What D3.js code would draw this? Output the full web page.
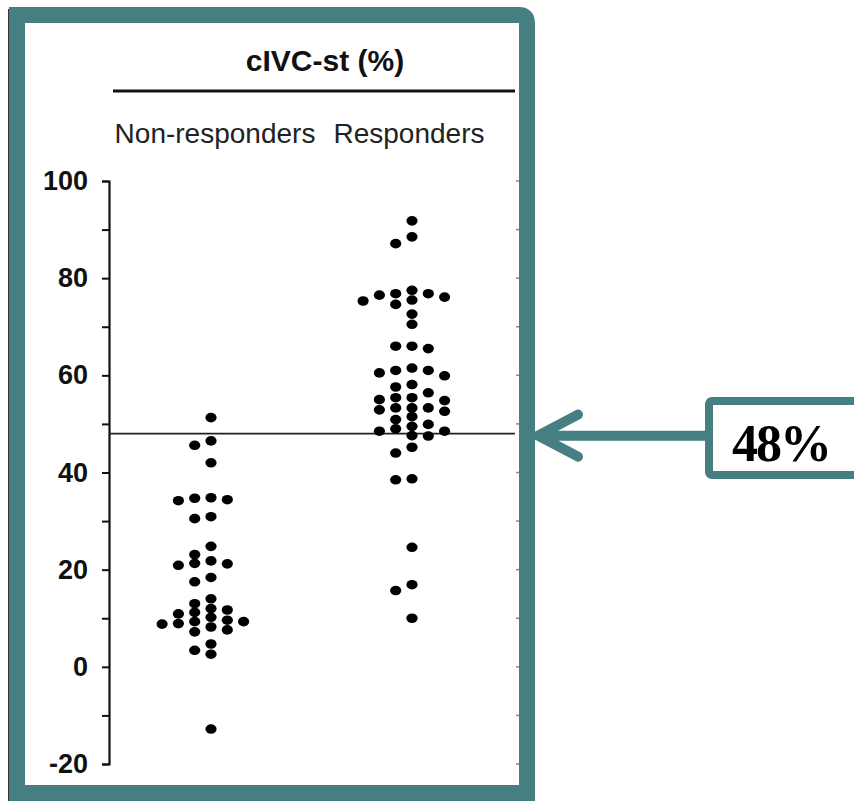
<!DOCTYPE html>
<html>
<head>
<meta charset="utf-8">
<script src="https://cdn.jsdelivr.net/npm/d3@7"></script>
<style>
  html, body { margin: 0; padding: 0; background: #fff; }
</style>
</head>
<body>
<script>
// Values (cIVC-st, %)
const groups = ["Non-responders", "Responders"];

const nonResponders = [
  51.3, 46.5, 45.6, 42.0, 34.8, 34.7, 34.4, 34.2, 30.9, 30.5,
  24.8, 23.1, 21.8, 21.3, 21.2, 20.9, 18.4, 17.5, 14.0, 13.0,
  12.0, 11.7, 11.2, 10.9, 10.2, 9.6, 9.3, 9.3, 8.9, 8.8,
  8.2, 7.6, 7.2, 4.7, 3.4, 2.6, -12.8
];

const responders = [
  91.8, 88.5, 87.1, 77.5, 76.8, 76.8, 76.5, 76.1, 75.5, 75.3,
  74.6, 72.6, 70.5, 66.0, 66.0, 65.5, 61.5, 61.0, 61.0, 60.5,
  59.9, 58.1, 57.6, 56.4, 55.4, 55.4, 55.0, 54.8, 53.3, 53.3,
  53.3, 52.9, 52.6, 51.5, 50.9, 49.9, 49.5, 49.0, 48.5, 48.5,
  47.6, 47.5, 45.2, 44.0, 38.7, 38.5, 24.6, 16.9, 15.7, 10.0
];

const cutoff = 48;
const cutoffLabel = "48%";
const yTicks = [-20, -10, 0, 10, 20, 30, 40, 50, 60, 70, 80, 90, 100];
const title = "cIVC-st (%)";

const width = 854, height = 801;
const teal = "#457f82";

const svg = d3.select("body").append("svg")
  .attr("width", width)
  .attr("height", height)
  .attr("font-family", "Liberation Sans, Arial, sans-serif");

// Frame
svg.append("line")
  .attr("x1", 9).attr("x2", 9).attr("y1", 9).attr("y2", height)
  .attr("stroke", "#333").attr("stroke-width", 2);
svg.append("path")
  .attr("d", `M17,${height + 10} V15 H519 Q527,15 527,23 V${height + 10}`)
  .attr("fill", "none")
  .attr("stroke", teal)
  .attr("stroke-width", 16);
svg.append("rect")
  .attr("x", 25).attr("y", 23).attr("width", 494).attr("height", 762)
  .attr("fill", "#fff");
svg.append("rect")
  .attr("x", 9).attr("y", 785).attr("width", 526).attr("height", 16)
  .attr("fill", teal);

// Scales
const y = d3.scaleLinear().domain([-20, 100]).range([764, 181]);
const x = d3.scalePoint().domain(groups).range([211, 412]);
const step = 16.3;

// Title + rule + group labels
svg.append("text")
  .attr("x", 325).attr("y", 71)
  .attr("text-anchor", "middle")
  .attr("font-weight", "bold")
  .attr("font-size", 30)
  .attr("fill", "#111")
  .text(title);
svg.append("line")
  .attr("x1", 113).attr("x2", 515).attr("y1", 91).attr("y2", 91)
  .attr("stroke", "#111").attr("stroke-width", 3);
svg.selectAll("text.group")
  .data(groups)
  .join("text")
  .attr("class", "group")
  .attr("x", (d, i) => i === 0 ? 215 : 409)
  .attr("y", 143)
  .attr("text-anchor", "middle")
  .attr("font-size", 28)
  .attr("fill", "#222")
  .text(d => d);

// Y axis
const yAxis = d3.axisLeft(y)
  .tickValues(yTicks)
  .tickSize(7)
  .tickPadding(14)
  .tickFormat(d => d % 20 === 0 ? d : "");
const ga = svg.append("g")
  .attr("transform", "translate(109,0)")
  .call(yAxis);
ga.select(".domain").attr("stroke", "#111").attr("stroke-width", 2.2);
ga.selectAll(".tick line").attr("stroke", "#111").attr("stroke-width", 2);
ga.selectAll(".tick text")
  .attr("font-size", 27)
  .attr("font-weight", "bold")
  .attr("font-family", "Liberation Sans, Arial, sans-serif")
  .attr("fill", "#111");

// faint right-side ticks, mostly hidden by the frame
svg.append("g")
  .selectAll("line")
  .data(yTicks)
  .join("line")
  .attr("x1", 516).attr("x2", 519)
  .attr("y1", d => y(d)).attr("y2", d => y(d))
  .attr("stroke", "#888").attr("stroke-width", 1.5);

// Cutoff line
svg.append("line")
  .attr("x1", 109).attr("x2", 515)
  .attr("y1", y(cutoff)).attr("y2", y(cutoff))
  .attr("stroke", "#222").attr("stroke-width", 1.6);

// Dot plot: simple dodge, slots 0, -1, +1, -2, +2 ...
function dodge(values, minGap) {
  const placed = new Map();
  return values.slice().sort((a, b) => b - a).map(v => {
    const py = y(v);
    for (let k = 0; ; k++) {
      const slot = k === 0 ? 0 : (k % 2 ? -(k + 1) / 2 : k / 2);
      const col = placed.get(slot) || [];
      if (col.every(q => Math.abs(q - py) >= minGap)) {
        col.push(py);
        placed.set(slot, col);
        return {value: v, slot};
      }
    }
  });
}

const series = [nonResponders, responders];
series.forEach((vals, i) => {
  svg.append("g")
    .selectAll("ellipse")
    .data(dodge(vals, 8.5))
    .join("ellipse")
    .attr("cx", d => x(groups[i]) + d.slot * step)
    .attr("cy", d => y(d.value))
    .attr("rx", 5.6)
    .attr("ry", 4.8)
    .attr("fill", "#000");
});

// Arrow + label box
const ay = y(cutoff) + 2;
svg.append("path")
  .attr("d", `M578,${ay - 21} L538,${ay} L578,${ay + 21} M538,${ay} H705`)
  .attr("fill", "none")
  .attr("stroke", teal)
  .attr("stroke-width", 10)
  .attr("stroke-linecap", "round")
  .attr("stroke-linejoin", "round");
svg.append("rect")
  .attr("x", 709).attr("y", 401)
  .attr("width", 170).attr("height", 74)
  .attr("rx", 3)
  .attr("fill", "#fff")
  .attr("stroke", teal)
  .attr("stroke-width", 8);
svg.append("text")
  .attr("x", 781).attr("y", 461)
  .attr("text-anchor", "middle")
  .attr("font-family", "Liberation Serif, DejaVu Serif, serif")
  .attr("font-weight", "bold")
  .attr("font-size", 52)
  .attr("letter-spacing", -2)
  .attr("fill", "#000")
  .text(cutoffLabel);
</script>
</body>
</html>
